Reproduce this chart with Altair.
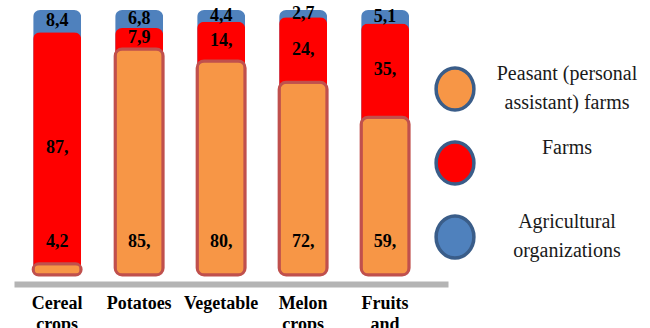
import json
import altair as alt
import pandas as pd

CATEGORIES = ["Cereal crops", "Potatoes", "Vegetable", "Melon crops", "Fruits and berries"]
SERIES = ["Peasant (personal assistant) farms", "Farms", "Agricultural organizations"]
PEASANT = [4.2, 85.3, 80.8, 72.7, 59.5]
FARMS = [87.4, 7.9, 14.8, 24.6, 35.4]
AGRI = [8.4, 6.8, 4.4, 2.7, 5.1]
PEASANT_LABELS = ["4,2", "85,", "80,", "72,", "59,"]
FARMS_LABELS = ["87,", "7,9", "14,", "24,", "35,"]
AGRI_LABELS = ["8,4", "6,8", "4,4", "2,7", "5,1"]
COLORS = ["#f79646", "#ff0000", "#4f81bd"]
LEGEND_LINES = [["Peasant (personal", "assistant) farms"], ["Farms"], ["Agricultural", "organizations"]]
SERIF = "Liberation Serif"

rows = []
for i, cat in enumerate(CATEGORIES):
    lower = 0.0
    for s, vals, labs in zip(SERIES, [PEASANT, FARMS, AGRI], [PEASANT_LABELS, FARMS_LABELS, AGRI_LABELS]):
        v = vals[i]
        rows.append({"category": cat, "series": s, "value": v, "label": labs[i],
                     "lower": lower, "upper": lower + v, "mid": lower + v / 2})
        lower += v
df = pd.DataFrame(rows)

label_expr = " : ".join(
    f"datum.label == {json.dumps(s)} ? {json.dumps(lines)}" for s, lines in zip(SERIES, LEGEND_LINES)
) + " : datum.label"

xenc = alt.X(
    "category:N", sort=CATEGORIES, title=None,
    scale=alt.Scale(paddingInner=0.415, paddingOuter=0.354, align=0.33),
    axis=alt.Axis(labelAngle=0, ticks=False, domainWidth=6, domainColor="#b4b4b4", offset=9,
                  labelPadding=10, labelFont=SERIF, labelFontWeight="bold",
                  labelFontSize=18, labelColor="#000000", labelLineHeight=21,
                  labelExpr="split(datum.label, ' ')"),
)
yscale = alt.Scale(domain=[0, 100], nice=False, zero=True)
color = alt.Color(
    "series:N", scale=alt.Scale(domain=SERIES, range=COLORS),
    legend=alt.Legend(title=None, orient="none", legendX=418, legendY=56, padding=0,
                      symbolType="M0,-1 A0.9,1 0 1,1 0,1 A0.9,1 0 1,1 0,-1 Z",
                      symbolSize=1764, symbolStrokeColor="#3a5d89", symbolStrokeWidth=3.5,
                      symbolOpacity=1, labelFont=SERIF, labelFontSize=20,
                      labelColor="#1a1a1a", labelAlign="center", labelBaseline="line-bottom",
                      labelOffset=89, labelLimit=400, rowPadding=18, labelExpr=label_expr),
)

base = alt.Chart(df).encode(x=xenc)

layers = []
for s in reversed(SERIES):
    props = dict(cornerRadius=7)
    if s == SERIES[0]:
        props.update(stroke="#c0504d", strokeWidth=3)
    layers.append(
        base.transform_filter(alt.datum.series == s).mark_bar(**props).encode(
            y=alt.Y("upper:Q", scale=yscale, axis=None), color=color)
    )

txt = dict(font=SERIF, fontWeight="bold", fontSize=18, color="#000000")
layers.append(base.transform_filter(alt.datum.series != SERIES[0]).mark_text(**txt).encode(
    y=alt.Y("mid:Q", scale=yscale, axis=None), text="label:N"))
layers.append(base.transform_filter(alt.datum.series == SERIES[0]).mark_text(dy=-33, **txt).encode(
    y=alt.datum(0), text="label:N"))

chart = alt.layer(*layers).properties(
    width=434, height=265,
    autosize=alt.AutoSizeParams(type="none"),
    padding={"left": 14, "top": 10, "right": 202, "bottom": 53},
    background="white",
).configure(style={"guide-label": {"lineHeight": 29}}).configure_view(strokeWidth=0)

chart.save("out.html", embed_options={"renderer": "svg", "actions": False})
